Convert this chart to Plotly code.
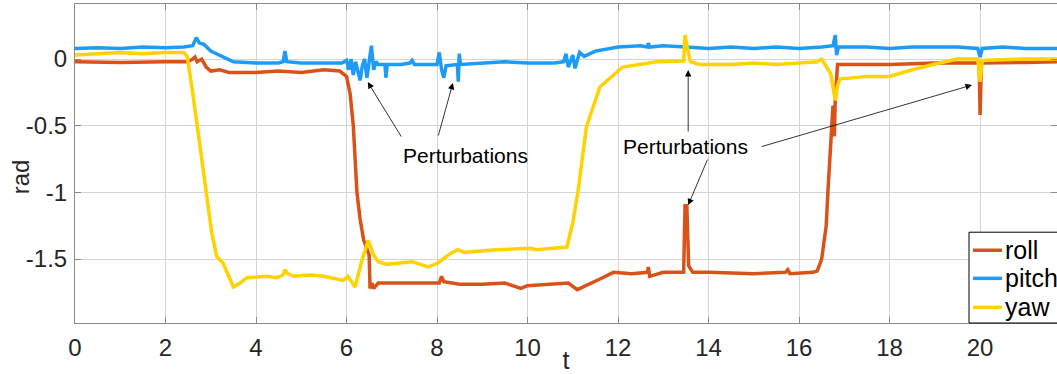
import plotly.graph_objects as go

# ---- data ----
pitch_t = [0.0, 0.5, 1.0, 1.5, 2.0, 2.4, 2.6, 2.68, 2.75, 2.85, 3.0, 3.2, 3.5, 4.0, 4.5, 4.6, 4.64, 4.68,
           5.0, 5.5, 5.9, 6.0, 6.05, 6.1, 6.15, 6.2, 6.3, 6.35, 6.4, 6.45, 6.5, 6.55, 6.6, 6.65, 6.7,
           6.85, 6.87, 6.9, 7.2, 7.4, 7.45, 7.5, 8.0, 8.05, 8.1, 8.15, 8.2, 8.45, 8.47, 8.49, 8.52,
           9.0, 9.5, 10.0, 10.6, 10.8, 10.85, 10.9, 11.0, 11.05, 11.15, 11.25, 11.5, 12.0, 12.5,
           12.65, 12.67, 12.7, 13.0, 13.5, 14.0, 14.5, 15.0, 15.5, 16.0, 16.5, 16.75, 16.8, 16.83,
           16.87, 17.5, 18.0, 18.5, 19.0, 19.5, 19.95, 20.0, 20.05, 20.5, 21.0, 21.7]
pitch_v = [0.08, 0.085, 0.08, 0.09, 0.085, 0.09, 0.10, 0.16, 0.12, 0.11, 0.06, 0.03, -0.02, -0.03, -0.03,
           -0.02, 0.06, -0.02, -0.03, -0.03, -0.03, -0.01, -0.08, 0.0, -0.12, -0.02, -0.16, -0.05, 0.0,
           -0.14, -0.02, 0.10, -0.08, -0.02, -0.04, -0.04, -0.14, -0.04, -0.04, -0.03, -0.01, -0.04,
           -0.04, 0.05, -0.08, -0.14, -0.05, -0.04, -0.17, 0.04, -0.04, -0.03, -0.02, -0.03, -0.03,
           -0.02, 0.04, -0.06, 0.03, -0.07, 0.05, 0.02, 0.06, 0.09, 0.10, 0.09, 0.12, 0.09, 0.10, 0.09,
           0.08, 0.09, 0.08, 0.09, 0.08, 0.09, 0.10, 0.18, 0.03, 0.09, 0.09, 0.08, 0.09, 0.09, 0.09,
           0.08, 0.015, 0.08, 0.09, 0.08, 0.08]

roll_t = [0.0, 1.0, 2.0, 2.5, 2.6, 2.65, 2.7, 2.8, 2.9, 3.0, 3.2, 3.4, 4.0, 4.5, 5.0, 5.5, 5.85, 6.0,
          6.08, 6.15, 6.23, 6.3, 6.38, 6.45, 6.5, 6.52, 6.56, 6.6, 6.7, 7.0, 7.5, 8.05, 8.1, 8.15, 8.5,
          9.0, 9.5, 9.85, 10.0, 10.5, 10.9, 11.1, 11.3, 11.6, 11.9, 12.3, 12.65, 12.67, 12.7, 13.0,
          13.45, 13.48, 13.52, 13.56, 13.65, 14.0, 15.0, 15.7, 15.75, 15.8, 16.3, 16.4, 16.5, 16.6,
          16.64, 16.7, 16.75, 16.78, 16.8, 16.85, 17.5, 18.0, 19.0, 19.98, 20.0, 20.03, 21.0, 21.7]
roll_v = [-0.02, -0.025, -0.02, -0.02, 0.0, 0.015, -0.02, 0.0, -0.06, -0.09, -0.08, -0.10, -0.10, -0.09,
          -0.10, -0.08, -0.09, -0.13, -0.26, -0.5, -1.0, -1.2, -1.36, -1.43, -1.47, -1.72, -1.68, -1.72,
          -1.68, -1.68, -1.68, -1.68, -1.63, -1.67, -1.69, -1.69, -1.68, -1.72, -1.70, -1.69, -1.68,
          -1.73, -1.70, -1.65, -1.60, -1.61, -1.60, -1.56, -1.63, -1.60, -1.60, -1.10, -1.10, -1.55,
          -1.60, -1.60, -1.61, -1.60, -1.58, -1.61, -1.60, -1.59, -1.50, -1.25, -0.98, -0.60, -0.35,
          -0.58, -0.30, -0.04, -0.04, -0.04, -0.03, -0.03, -0.42, -0.03, -0.025, -0.02]

yaw_t = [0.0, 0.5, 1.0, 1.5, 2.0, 2.4, 2.48, 2.6, 2.7, 2.91, 3.02, 3.13, 3.27, 3.5, 3.65, 3.8, 4.24,
         4.46, 4.6, 4.64, 4.7, 4.83, 5.2, 5.5, 5.93, 6.03, 6.19, 6.34, 6.48, 6.6, 6.7, 6.89, 7.2, 7.45,
         7.8, 8.02, 8.29, 8.46, 8.6, 9.32, 10.06, 10.2, 10.87, 11.0, 11.12, 11.3, 11.6, 12.1, 12.86,
         13.45, 13.48, 13.52, 13.6, 13.8, 14.5, 15.0, 15.5, 16.0, 16.4, 16.5, 16.6, 16.7, 16.8, 16.85,
         16.9, 17.5, 18.0, 18.5, 19.1, 19.5, 19.95, 20.0, 20.05, 21.0, 21.7]
yaw_v = [0.03, 0.04, 0.05, 0.04, 0.05, 0.05, 0.02, -0.25, -0.5, -0.98, -1.3, -1.48, -1.53, -1.71, -1.68,
         -1.64, -1.63, -1.64, -1.62, -1.58, -1.61, -1.63, -1.62, -1.63, -1.66, -1.63, -1.71, -1.51,
         -1.36, -1.47, -1.52, -1.54, -1.53, -1.52, -1.56, -1.53, -1.46, -1.43, -1.45, -1.43, -1.42,
         -1.43, -1.41, -1.23, -0.98, -0.51, -0.21, -0.06, -0.02, -0.015, 0.18, 0.10, -0.02, -0.04,
         -0.04, -0.03, -0.04, -0.03, -0.02, 0.0, -0.05, -0.11, -0.31, -0.20, -0.15, -0.13, -0.13,
         -0.08, -0.03, 0.0, 0.0, -0.17, -0.01, 0.0, 0.0]

series_names = ["roll", "pitch", "yaw"]
x_ticks = [0, 2, 4, 6, 8, 10, 12, 14, 16, 18, 20]
y_ticks = [-1.5, -1, -0.5, 0]
y_tick_text = ["-1.5", "-1", "-0.5", "0"]

# annotation arrows: (tail_t, tail_y, tip_t, tip_y)
arrows = [(7.23, -0.593, 6.47, -0.173),
          (8.02, -0.585, 8.35, -0.18),
          (13.55, -0.555, 13.55, -0.083),
          (13.99, -0.743, 13.55, -1.095),
          (15.14, -0.66, 19.82, -0.195)]
labels = [("Perturbations", 8.64, -0.72), ("Perturbations", 13.5, -0.653)]

colors = ["#D95319", "#1E9BF5", "#FFD200"]
FONT = "Liberation Sans, Arial, sans-serif"

fig = go.Figure()
for name, tt, vv, c in zip(series_names, [roll_t, pitch_t, yaw_t], [roll_v, pitch_v, yaw_v], colors):
    fig.add_trace(go.Scatter(x=tt, y=vv, mode="lines", name=name, showlegend=False,
                             line=dict(color=c, width=3.5)))

for (at, ay, tt, ty) in arrows:
    fig.add_annotation(x=tt, y=ty, ax=at, ay=ay, xref="x", yref="y", axref="x", ayref="y",
                       text="", showarrow=True, arrowhead=2, arrowsize=1.6, arrowwidth=0.8,
                       arrowcolor="#000000")
for (txt, lt, ly) in labels:
    fig.add_annotation(x=lt, y=ly, xref="x", yref="y", text=txt, showarrow=False,
                       font=dict(family=FONT, size=21, color="#000000"))

# y-axis title placed like MATLAB's
fig.add_annotation(x=-0.056, y=0.457, xref="paper", yref="paper", text="rad", textangle=-90,
                   showarrow=False, xanchor="center", yanchor="middle",
                   font=dict(family=FONT, size=24, color="#262626"))

# MATLAB-style legend box in the lower-right corner (clipped by the figure edge)
leg_x0, leg_x1, leg_y0, leg_y1 = 0.9104, 1.02, 0.0, 0.2846
fig.add_shape(type="rect", xref="paper", yref="paper", x0=leg_x0, x1=leg_x1, y0=leg_y0, y1=leg_y1,
              line=dict(color="#000000", width=1), fillcolor="white", layer="above")
leg_rows = [0.228, 0.140, 0.049]
for name, c, ry in zip(series_names, colors, leg_rows):
    fig.add_shape(type="line", xref="paper", yref="paper", x0=0.9145, x1=0.944, y0=ry, y1=ry,
                  line=dict(color=c, width=3.5), layer="above")
    fig.add_annotation(x=0.945, y=ry, xref="paper", yref="paper", text=name, showarrow=False,
                       xanchor="left", yanchor="middle",
                       font=dict(family=FONT, size=25, color="#000000"))

axis_common = dict(showgrid=True, gridcolor="#d4d4d4", gridwidth=1, zeroline=False,
                   showline=True, linecolor="#8a8a8a", linewidth=1, mirror="ticks",
                   ticks="inside", ticklen=6, tickcolor="#8a8a8a", automargin=False,
                   tickfont=dict(family=FONT, size=24, color="#262626"))

fig.update_layout(
    width=1057, height=374,
    margin=dict(l=75, r=0, t=4, b=51),
    paper_bgcolor="white", plot_bgcolor="white",
    font=dict(family=FONT, color="#262626"),
    xaxis=dict(range=[0, 21.7], tickvals=x_ticks, ticklabelstandoff=3,
               title=dict(text="t", font=dict(family=FONT, size=25, color="#262626"), standoff=0),
               **axis_common),
    yaxis=dict(range=[-1.98, 0.413], tickvals=y_ticks, ticktext=y_tick_text, ticklabelstandoff=2,
               **axis_common),
    showlegend=False,
)

fig.write_html("out.html", config={"displayModeBar": False},
               post_script="document.body.style.margin='0';document.body.style.overflow='hidden';")
